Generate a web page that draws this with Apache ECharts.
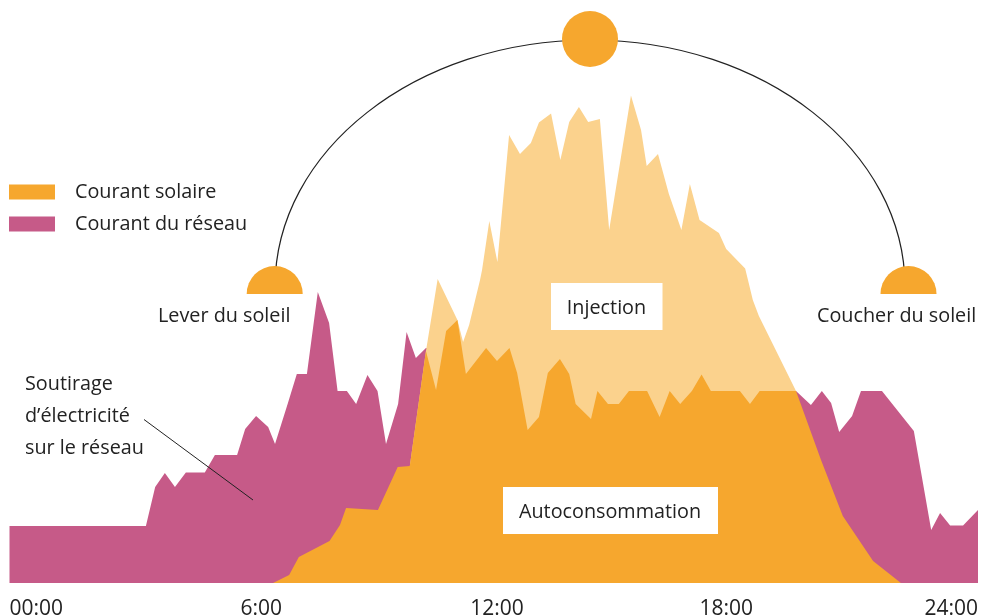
<!DOCTYPE html>
<html>
<head>
<meta charset="utf-8">
<title>Courant solaire</title>
<script src="https://cdn.jsdelivr.net/npm/echarts@6/dist/echarts.min.js"></script>
<style>
    html, body { margin: 0; padding: 0; background: #fff; }
    #chart { width: 981px; height: 616px; }
</style>
</head>
<body>
<div id="chart"></div>
<script>
// [heure, puissance]
var reseau = [[0, 0.57], [3.38, 0.57], [3.61, 0.96], [3.85, 1.10], [4.10, 0.96], [4.37, 1.105], [4.84, 1.105],
    [5.09, 1.28], [5.64, 1.28], [5.84, 1.54], [6.11, 1.67], [6.41, 1.56], [6.58, 1.39], [6.90, 1.80], [7.12, 2.09],
    [7.37, 2.09], [7.64, 2.91], [7.92, 2.60], [8.13, 1.92], [8.36, 1.92], [8.59, 1.79], [8.87, 2.08], [9.12, 1.92],
    [9.33, 1.39], [9.63, 1.79], [9.84, 2.51], [10.07, 2.25], [10.32, 2.35], [19.49, 1.92], [19.86, 1.78],
    [20.13, 1.92], [20.36, 1.80], [20.56, 1.51], [20.88, 1.67], [21.10, 1.92], [21.62, 1.92], [22.41, 1.52],
    [22.84, 0.53], [23.06, 0.70], [23.31, 0.575], [23.63, 0.575], [24, 0.73]];

var autoconsommation = [[6.53, 0], [6.93, 0.08], [7.17, 0.26], [7.93, 0.42], [8.19, 0.58], [8.34, 0.75], [9.13, 0.73],
    [9.62, 1.16], [9.92, 1.17], [10.32, 2.32], [10.57, 1.93], [10.82, 2.52], [11.10, 2.63], [11.31, 2.09],
    [11.81, 2.35], [12.08, 2.22], [12.39, 2.35], [12.58, 2.10], [12.84, 1.53], [13.12, 1.66], [13.34, 2.10],
    [13.64, 2.24], [13.87, 2.09], [14.03, 1.79], [14.41, 1.64], [14.57, 1.92], [14.83, 1.79], [15.10, 1.79],
    [15.35, 1.92], [15.80, 1.92], [16.11, 1.66], [16.36, 1.92], [16.62, 1.79], [16.91, 1.92], [17.15, 2.085],
    [17.38, 1.92], [18.10, 1.92], [18.35, 1.79], [18.59, 1.92], [19.49, 1.92], [20.11, 1.23], [20.65, 0.67],
    [21.40, 0.22], [22.09, 0]];

var injection = [[9.92, 1.17], [10.32, 2.32], [10.61, 3.04], [11.10, 2.63], [11.24, 2.41], [11.39, 2.58], [11.66, 3.03],
    [11.71, 3.13], [11.89, 3.62], [12.09, 3.21], [12.38, 4.48], [12.65, 4.29], [12.92, 4.40], [13.12, 4.605],
    [13.42, 4.695], [13.65, 4.23], [13.87, 4.61], [14.11, 4.76], [14.34, 4.61], [14.63, 4.64], [14.86, 3.53],
    [15.40, 4.875], [15.65, 4.53], [15.79, 4.17], [16.07, 4.29], [16.34, 3.89], [16.65, 3.53], [16.86, 3.99],
    [17.10, 3.63], [17.58, 3.50], [17.76, 3.34], [18.23, 3.145], [18.30, 3.03], [18.42, 2.83], [18.57, 2.67],
    [19.49, 1.92]];

var tickPos = [0, 6.24, 12.08, 17.76, 24];
var tickLabels = ['00:00', '6:00', '12:00', '18:00', '24:00'];

var ORANGE = '#f6a72e', CLAIR = '#fbd28d', VIOLET = '#c65a88', TEXTE = '#222222';
var FONT = '"Open Sans", sans-serif', SIZE = 19.8;

function aire(name, data, color) {
    return {
        name: name,
        type: 'line',
        data: data,
        symbol: 'none',
        silent: true,
        lineStyle: { width: 0 },
        itemStyle: { color: color },
        areaStyle: { color: color, opacity: 1 }
    };
}

function texte(x, y, txt, align) {
    return {
        type: 'text',
        x: x,
        y: y,
        z: 20,
        style: {
            text: txt,
            fill: TEXTE,
            font: SIZE + 'px ' + FONT,
            align: align || 'left',
            verticalAlign: 'middle'
        }
    };
}

function boite(x, y, w, h) {
    return { type: 'rect', z: 15, shape: { x: x, y: y, width: w, height: h }, style: { fill: '#fff' } };
}

function courbe(x1, y1, cx1, cy1, cx2, cy2, x2, y2) {
    return {
        type: 'bezierCurve',
        z: 10,
        shape: { x1: x1, y1: y1, cpx1: cx1, cpy1: cy1, cpx2: cx2, cpy2: cy2, x2: x2, y2: y2 },
        style: { stroke: '#222', lineWidth: 1.2, fill: null }
    };
}

var myChart = echarts.init(document.getElementById('chart'));

var option = {
    animation: false,
    backgroundColor: '#fff',
    // sinon v6 retrecit la grille pour garder les etiquettes dans le cadre
    grid: { left: 9.5, right: 3, top: 83, bottom: 33, outerBoundsMode: 'none' },
    legend: {
        orient: 'vertical',
        left: 9,
        top: 182,
        padding: 0,
        itemWidth: 46,
        itemHeight: 15,
        itemGap: 12,
        icon: 'rect',
        selectedMode: false,
        data: ['Courant solaire', 'Courant du réseau'],
        textStyle: { color: TEXTE, fontFamily: FONT, fontSize: SIZE, padding: [0, 0, 0, 15] }
    },
    xAxis: {
        type: 'value',
        min: 0,
        max: 24,
        axisLine: { show: false },
        axisTick: { show: false },
        splitLine: { show: false },
        axisLabel: {
            customValues: tickPos,
            formatter: function (v) {
                return tickLabels[tickPos.indexOf(v)];
            },
            alignMinLabel: 'left',
            alignMaxLabel: 'right',
            color: TEXTE,
            fontFamily: FONT,
            fontSize: 21,
            margin: 16
        }
    },
    yAxis: { type: 'value', min: 0, max: 5, show: false },
    series: [
        aire('Courant du réseau', reseau, VIOLET),
        aire('Injection', injection, CLAIR),
        aire('Courant solaire', autoconsommation, ORANGE)
    ],
    graphic: [
        courbe(275, 287, 275, 150.6, 416, 40, 590, 40),
        courbe(590, 40, 764, 40, 905, 150.6, 905, 287),
        { type: 'circle', z: 12, shape: { cx: 590, cy: 39, r: 28 }, style: { fill: ORANGE } },
        { type: 'sector', z: 12, shape: { cx: 274.7, cy: 294, r: 28, startAngle: Math.PI, endAngle: 2 * Math.PI }, style: { fill: ORANGE } },
        { type: 'sector', z: 12, shape: { cx: 908.5, cy: 294, r: 28, startAngle: Math.PI, endAngle: 2 * Math.PI }, style: { fill: ORANGE } },
        { type: 'line', z: 12, shape: { x1: 144, y1: 419.5, x2: 253, y2: 500 }, style: { stroke: '#222', lineWidth: 1 } },
        boite(551, 283, 111.5, 47),
        boite(503, 487, 215, 47),
        texte(606.5, 308, 'Injection', 'center'),
        texte(610, 512, 'Autoconsommation', 'center'),
        texte(158, 316, 'Lever du soleil'),
        texte(817, 316, 'Coucher du soleil'),
        texte(25, 384, 'Soutirage'),
        texte(25, 416, 'd’électricité'),
        texte(25, 448, 'sur le réseau')
    ]
};
myChart.setOption(option);
</script>
</body>
</html>
